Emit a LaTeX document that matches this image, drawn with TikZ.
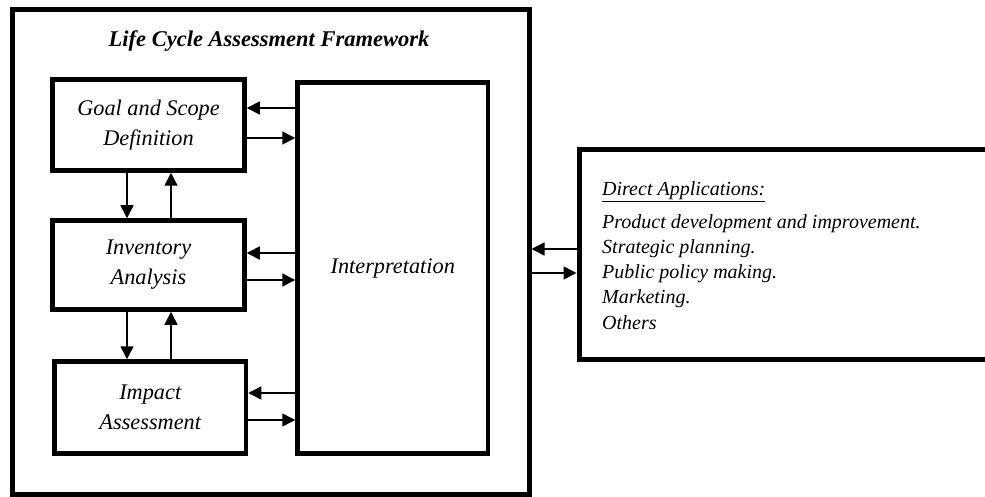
\documentclass[tikz,border=0pt]{standalone}
\usepackage{fontspec}
\setmainfont{Liberation Serif}
\usetikzlibrary{arrows.meta}
\begin{document}
\begin{tikzpicture}[x=1pt,y=-1pt,
  box/.style={draw, line width=4.5pt, inner sep=0pt, font=\itshape\fontsize{22.3}{30}\selectfont, align=center},
  frm/.style={draw, line width=5pt, inner sep=0pt},
  arr/.style={line width=1.5pt, -{Triangle[length=13pt,width=13pt]}},
]
\clip (0,0) rectangle (985,497);
\fill[white] (0,0) rectangle (985,497);
\node[frm, minimum width=517pt, minimum height=484.5pt] (frame) at (270.5,251.75) {};
\node[font=\bfseries\itshape\fontsize{22.5}{27}\selectfont, anchor=base] (title) at (269,47) {Life Cycle Assessment Framework};
\node[box, minimum width=192pt, minimum height=91pt] (goal) at (148.5,125) {Goal and Scope\\Definition};
\node[box, minimum width=192pt, minimum height=89pt] (inv) at (148.5,265) {Inventory\\Analysis};
\node[box, minimum width=191.5pt, minimum height=92pt] (imp) at (150.25,407.5) {Impact\\Assessment};
\node[box, minimum width=190.5pt, minimum height=371pt] (interp) at (392.75,268) {Interpretation};
\node[frm, minimum width=521pt, minimum height=209.5pt] (apps) at (839.5,254.75) {};
\node[anchor=north west, inner sep=0pt, align=left, font=\itshape\fontsize{20}{25}\selectfont] (applist) at (602,181)
  {\underline{Direct Applications:}\\[8pt]
   Product development and improvement.\\
   Strategic planning.\\
   Public policy making.\\
   Marketing.\\[1pt]
   Others};
% goal <-> interpretation
\draw[arr] (interp.west |- 0,108) -- (goal.east |- 0,108);
\draw[arr] (goal.east |- 0,138) -- (interp.west |- 0,138);
% inventory <-> interpretation
\draw[arr] (interp.west |- 0,253) -- (inv.east |- 0,253);
\draw[arr] (inv.east |- 0,280) -- (interp.west |- 0,280);
% impact <-> interpretation
\draw[arr] (interp.west |- 0,393) -- (imp.east |- 0,393);
\draw[arr] (imp.east |- 0,420) -- (interp.west |- 0,420);
% vertical
\draw[arr] (goal.south -| 127,0) -- (inv.north -| 127,0);
\draw[arr] (inv.north -| 171,0) -- (goal.south -| 171,0);
\draw[arr] (inv.south -| 127,0) -- (imp.north -| 127,0);
\draw[arr] (imp.north -| 171,0) -- (inv.south -| 171,0);
% framework <-> applications
\draw[arr] (apps.west |- 0,249) -- (frame.east |- 0,249);
\draw[arr] (frame.east |- 0,273) -- (apps.west |- 0,273);
\end{tikzpicture}
\end{document}
